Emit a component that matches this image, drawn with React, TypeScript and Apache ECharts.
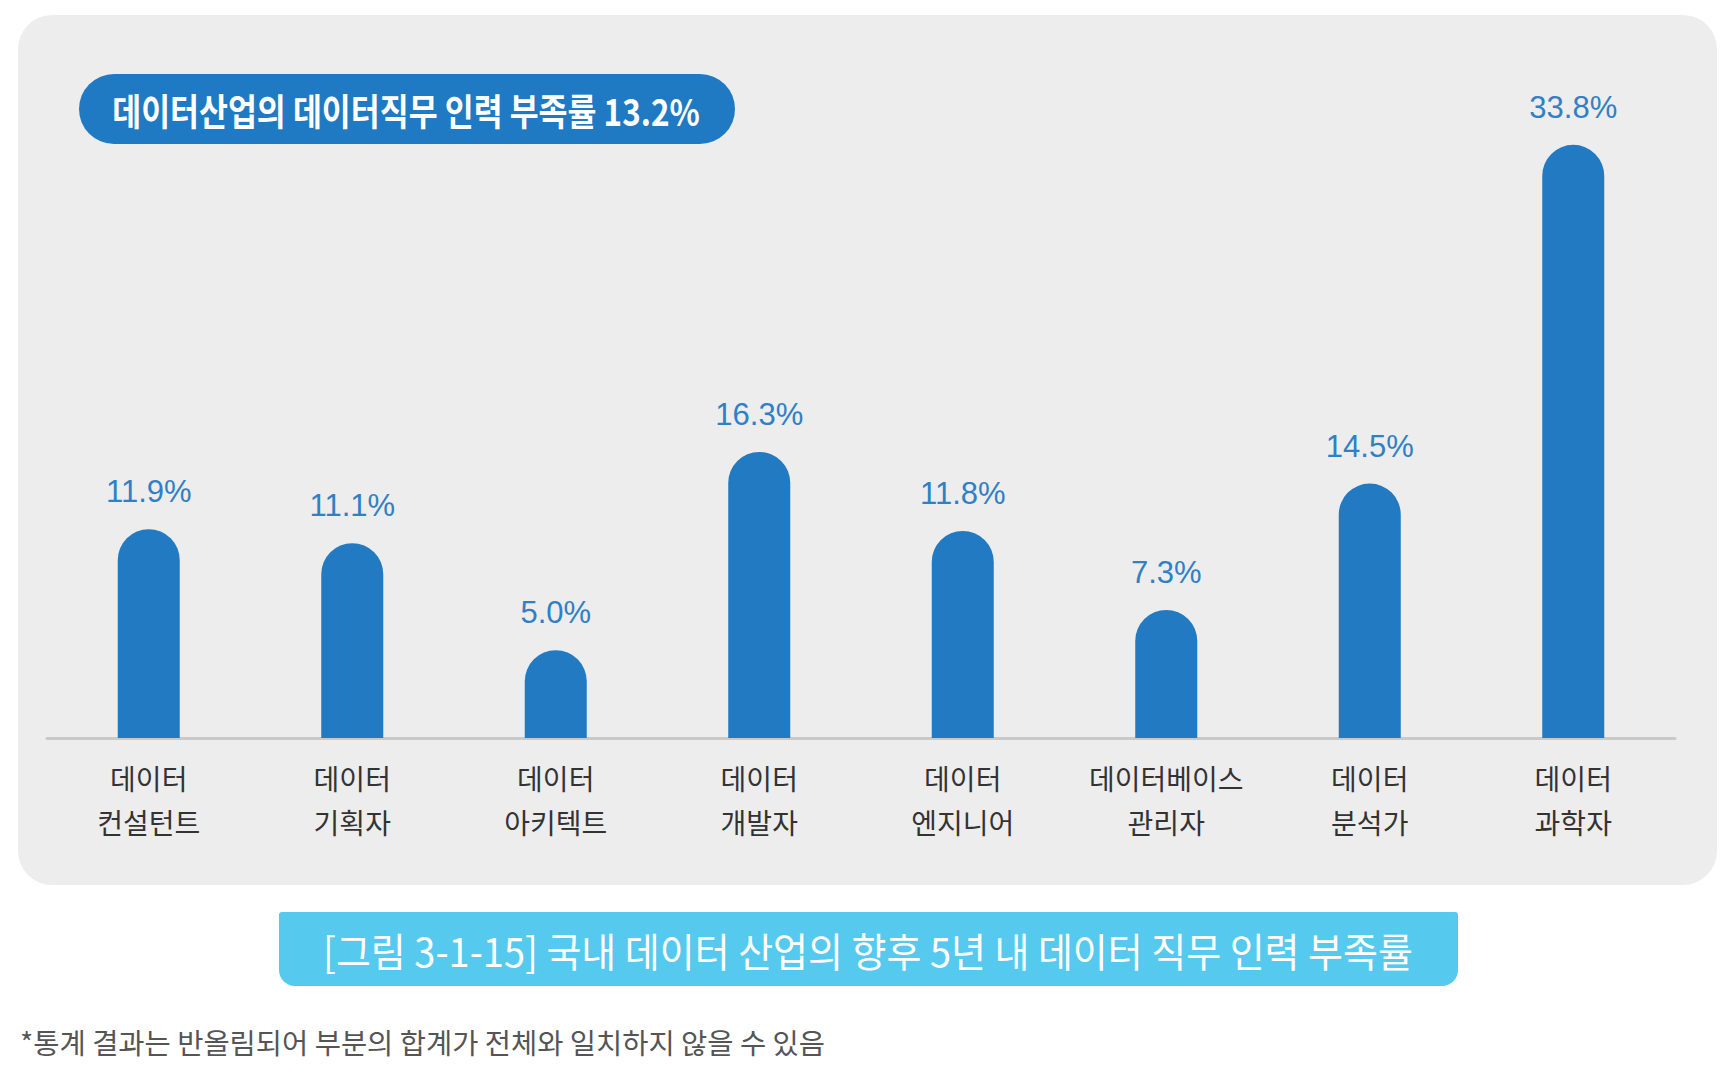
import React, { useEffect, useRef } from "react";
import * as echarts from "echarts";

const categories: string[] = [
  "데이터\n컨설턴트",
  "데이터\n기획자",
  "데이터\n아키텍트",
  "데이터\n개발자",
  "데이터\n엔지니어",
  "데이터베이스\n관리자",
  "데이터\n분석가",
  "데이터\n과학자",
];
const shortageRates: number[] = [11.9, 11.1, 5.0, 16.3, 11.8, 7.3, 14.5, 33.8];
const headline = "데이터산업의 데이터직무 인력 부족률 13.2%";
const caption = "[그림 3-1-15] 국내 데이터 산업의 향후 5년 내 데이터 직무 인력 부족률";
const footnote = "*통계 결과는 반올림되어 부분의 합계가 전체와 일치하지 않을 수 있음";

const KR = "'Noto Sans CJK KR', 'Noto Sans', sans-serif";
const NUM = "'Liberation Sans Narrow', 'Liberation Sans', 'Noto Sans CJK KR', sans-serif";

export default function App() {
  const ref = useRef<HTMLDivElement>(null);
  useEffect(() => {
    document.body.style.margin = "0";
    const chart = echarts.init(ref.current!, null, { renderer: "svg" });
    chart.setOption({
      animation: false,
      backgroundColor: "#ffffff",
      graphic: [
        {
          type: "rect",
          z: -10,
          shape: { x: 18, y: 15, width: 1699, height: 870, r: 34 },
          style: { fill: "#ededed" },
        },
        {
          type: "rect",
          z: 5,
          shape: { x: 79, y: 74, width: 656, height: 70, r: 35 },
          style: { fill: "#1f7ac3" },
        },
        {
          type: "text",
          z: 6,
          x: 406,
          y: 110,
          scaleX: 0.85,
          style: {
            text: headline,
            fill: "#ffffff",
            fontSize: 37,
            fontWeight: "bold",
            fontFamily: KR,
            align: "center",
            verticalAlign: "middle",
          },
        },
        {
          type: "rect",
          z: 5,
          shape: { x: 279, y: 912, width: 1179, height: 74, r: [3, 3, 16, 16] },
          style: { fill: "#56c9ef" },
        },
        {
          type: "text",
          z: 6,
          x: 868,
          y: 950,
          scaleX: 0.95,
          style: {
            text: caption,
            fill: "#ffffff",
            fontSize: 40,
            fontFamily: KR,
            align: "center",
            verticalAlign: "middle",
          },
        },
        {
          type: "text",
          z: 6,
          x: 20,
          y: 1041,
          style: {
            text: footnote,
            fill: "#555555",
            fontSize: 28.5,
            fontFamily: KR,
            align: "left",
            verticalAlign: "middle",
          },
        },
      ],
      grid: { left: 47, right: 53, top: 36, bottom: 342 },
      xAxis: {
        type: "category",
        data: categories,
        axisLine: { show: true, lineStyle: { color: "#c9c9c9", width: 3 } },
        axisTick: { show: false },
        axisLabel: {
          margin: 18,
          fontSize: 28,
          lineHeight: 44,
          color: "#333333",
          fontFamily: KR,
        },
      },
      yAxis: {
        type: "value",
        min: 0,
        max: 40,
        show: false,
        splitLine: { show: false },
      },
      series: [
        {
          type: "bar",
          data: shortageRates,
          barWidth: 62,
          itemStyle: { color: "#217ac2", borderRadius: [31, 31, 0, 0] },
          label: {
            show: true,
            position: "top",
            distance: 22,
            fontSize: 31,
            color: "#2f80c6",
            fontFamily: NUM,
            formatter: (p: any) => `${Number(p.value).toFixed(1)}%`,
          },
        },
      ],
    });
    return () => chart.dispose();
  }, []);
  return (
    <div
      ref={ref}
      style={{ position: "absolute", left: 0, top: 0, width: 1728, height: 1080 }}
    />
  );
}
